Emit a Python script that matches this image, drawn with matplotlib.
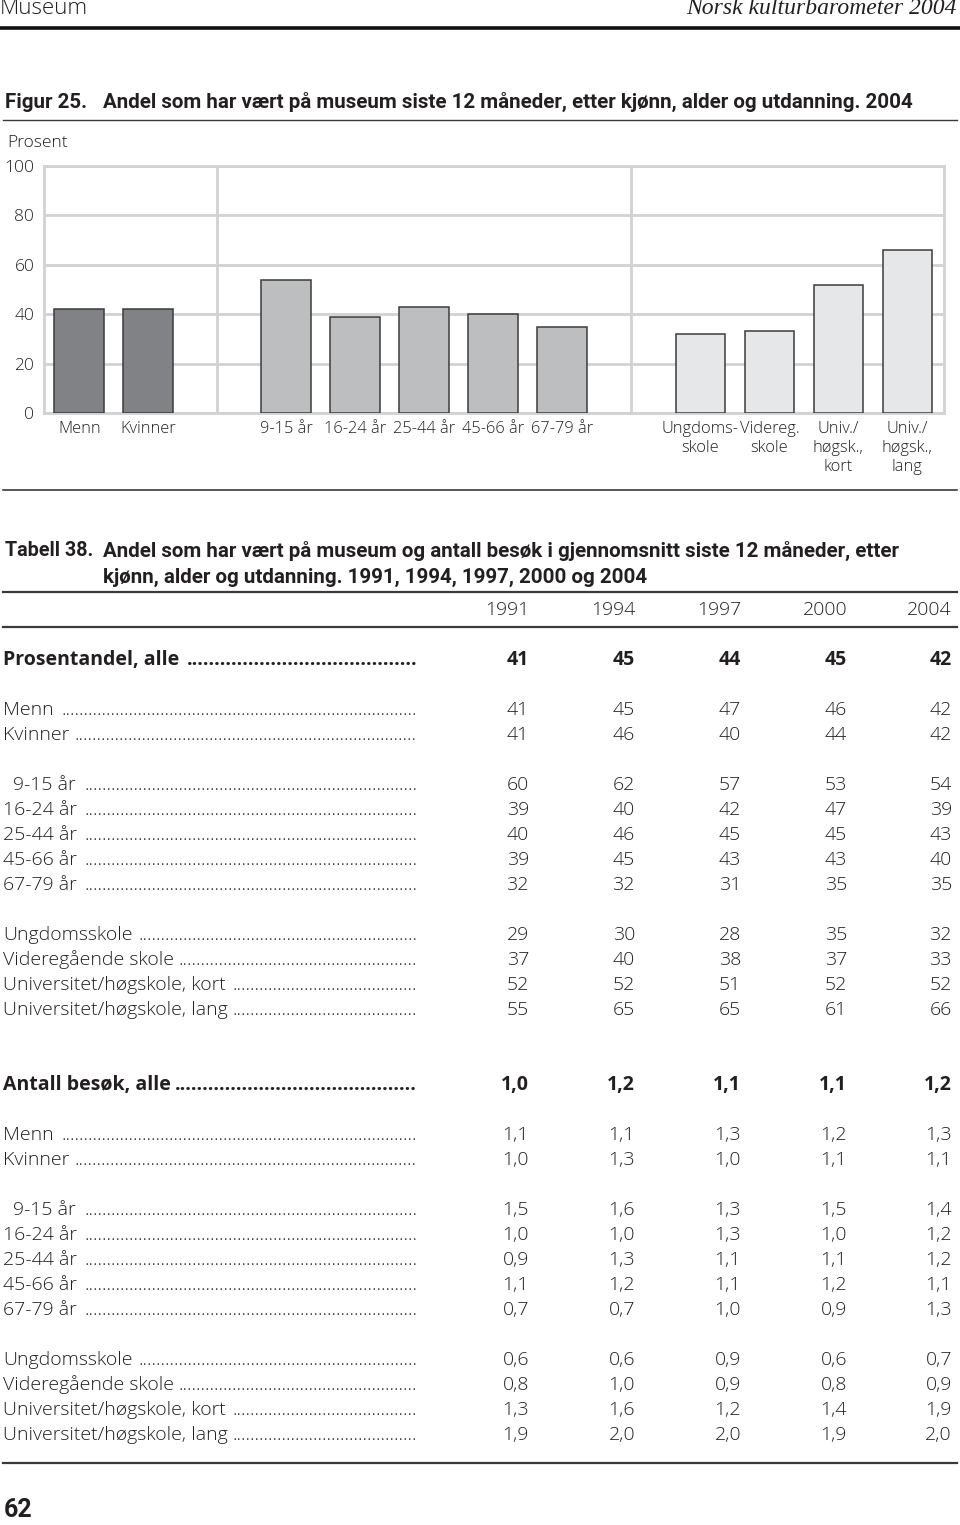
import matplotlib
matplotlib.use("Agg")
import matplotlib.pyplot as plt
from matplotlib.lines import Line2D

W, H = 960, 1525

# ── figure data ────────────────────────────────────────────────────────────
bar_labels = ["Menn", "Kvinner",
              "9-15 år", "16-24 år", "25-44 år", "45-66 år", "67-79 år",
              "Ungdoms-\nskole", "Videreg.\nskole", "Univ./\nhøgsk.,\nkort", "Univ./\nhøgsk.,\nlang"]
bar_values = [42, 42, 54, 39, 43, 40, 35, 32, 33, 52, 66]
bar_groups = [0, 0, 1, 1, 1, 1, 1, 2, 2, 2, 2]
group_colors = ["#808285", "#bcbec0", "#e6e7e8"]

# ── table data ─────────────────────────────────────────────────────────────
years = ["1991", "1994", "1997", "2000", "2004"]
row_labels = ["Menn", "Kvinner",
              "9-15 år", "16-24 år", "25-44 år", "45-66 år", "67-79 år",
              "Ungdomsskole", "Videregående skole",
              "Universitet/høgskole, kort", "Universitet/høgskole, lang"]
share_all = ["41", "45", "44", "45", "42"]
share_rows = [
    ["41", "45", "47", "46", "42"],
    ["41", "46", "40", "44", "42"],
    ["60", "62", "57", "53", "54"],
    ["39", "40", "42", "47", "39"],
    ["40", "46", "45", "45", "43"],
    ["39", "45", "43", "43", "40"],
    ["32", "32", "31", "35", "35"],
    ["29", "30", "28", "35", "32"],
    ["37", "40", "38", "37", "33"],
    ["52", "52", "51", "52", "52"],
    ["55", "65", "65", "61", "66"],
]
visits_all = ["1,0", "1,2", "1,1", "1,1", "1,2"]
visits_rows = [
    ["1,1", "1,1", "1,3", "1,2", "1,3"],
    ["1,0", "1,3", "1,0", "1,1", "1,1"],
    ["1,5", "1,6", "1,3", "1,5", "1,4"],
    ["1,0", "1,0", "1,3", "1,0", "1,2"],
    ["0,9", "1,3", "1,1", "1,1", "1,2"],
    ["1,1", "1,2", "1,1", "1,2", "1,1"],
    ["0,7", "0,7", "1,0", "0,9", "1,3"],
    ["0,6", "0,6", "0,9", "0,6", "0,7"],
    ["0,8", "1,0", "0,9", "0,8", "0,9"],
    ["1,3", "1,6", "1,2", "1,4", "1,9"],
    ["1,9", "2,0", "2,0", "1,9", "2,0"],
]

FONT = "Open Sans"
COND = "Roboto"
TXT = "#231f20"
TS = 14  # table text size
HS = 14.8  # heading size

fig = plt.figure(figsize=(W / 100, H / 100), dpi=100)
renderer = fig.canvas.get_renderer()


def fx(x):
    return x / W


def fy(y):
    return 1 - y / H


def text(x, y, s, **kw):
    kw.setdefault("family", FONT)
    kw.setdefault("color", TXT)
    kw.setdefault("va", "center")
    return fig.text(fx(x), fy(y), s, **kw)


def hline(y, x0=3, x1=957, lw=1.2, color="#3a3a3a"):
    fig.add_artist(Line2D([fx(x0), fx(x1)], [fy(y), fy(y)], lw=lw, color=color,
                          transform=fig.transFigure))


# ── page header ────────────────────────────────────────────────────────────
text(0, 9, "Museum", fontsize=16, ha="left", fontweight="light")
text(957, 9, "Norsk kulturbarometer 2004", fontsize=17, ha="right",
     family="Liberation Serif", style="italic")
hline(28, 0, 960, lw=2.6, color="#111111")

text(5, 102, "Figur 25.", fontsize=HS, ha="left", family=COND, fontweight="bold")
text(103, 102, "Andel som har vært på museum siste 12 måneder, etter kjønn, alder og utdanning. 2004",
     fontsize=HS, ha="left", family=COND, fontweight="bold")
hline(120, lw=1.0)

# ── bar chart ──────────────────────────────────────────────────────────────
ax = fig.add_axes([fx(44), fy(413), fx(944) - fx(44), fy(166) - fy(413)])
x_pos = [0, 1, 3, 4, 5, 6, 7, 9, 10, 11, 12]
grid_c = "#d1d2d4"
ax.set_axisbelow(True)
ax.grid(axis="y", color=grid_c, lw=2)
for sep in (2, 8):
    ax.axvline(sep, color=grid_c, lw=2, zorder=0.5)
ax.bar(x_pos, bar_values, width=0.72,
       color=[group_colors[g] for g in bar_groups],
       edgecolor="#3c3c3c", linewidth=1.1, zorder=3)
ax.set_xlim(-0.51, 12.53)
ax.set_ylim(0, 100)
ax.set_yticks([0, 20, 40, 60, 80, 100])
ax.set_xticks(x_pos)
ax.set_xticklabels(bar_labels, linespacing=1.25)
for s in ax.spines.values():
    s.set_color(grid_c)
    s.set_linewidth(2)
ax.tick_params(length=0, labelsize=11.8, labelcolor=TXT)
ax.tick_params(axis="y", labelsize=12.5, pad=7)
ax.tick_params(axis="x", pad=6)
for lab in ax.get_xticklabels() + ax.get_yticklabels():
    lab.set_family(FONT)
    lab.set_fontweight("light")
text(7, 143, "Prosent", fontsize=12.5, ha="left", fontweight="light")
hline(490, lw=1.2)

# ── table ──────────────────────────────────────────────────────────────────
text(5, 551, "Tabell 38.", fontsize=14.2, ha="left", family=COND, fontweight="bold")
text(103, 551, "Andel som har vært på museum og antall besøk i gjennomsnitt siste 12 måneder, etter",
     fontsize=HS, ha="left", family=COND, fontweight="bold")
text(103, 577, "kjønn, alder og utdanning. 1991, 1994, 1997, 2000 og 2004",
     fontsize=HS, ha="left", family=COND, fontweight="bold")
hline(592, lw=1.6)

col_right = [529, 635, 741, 847, 952]
for xr, yr in zip(col_right, years):
    text(xr, 610, yr, fontsize=TS, ha="right", fontweight="light")
hline(627, lw=1.6)

DOTS_END = 417


def dot_width(fw):
    t = text(0, 0, "." * 50, fontsize=TS, fontweight=fw)
    w = t.get_window_extent(renderer).width / 50
    t.remove()
    return w


DOT_W = {"light": dot_width("light"), "bold": dot_width("bold")}


def table_row(y, label, vals, bold=False, indent=0):
    fw = "bold" if bold else "light"
    lab = text(3 + indent, y, label, fontsize=TS, ha="left", fontweight=fw)
    x_end = lab.get_window_extent(renderer).x1
    n = int((DOTS_END - x_end - 4) / DOT_W[fw])
    if n > 0:
        text(DOTS_END, y, "." * n, fontsize=TS, ha="right", fontweight=fw)
    for xr, v in zip(col_right, vals):
        text(xr, y, v, fontsize=TS, ha="right", fontweight=fw)


def block(y0, head, head_vals, rows):
    table_row(y0, head, head_vals, bold=True)
    ys = [y0 + 50, y0 + 75,
          y0 + 125, y0 + 150, y0 + 175, y0 + 200, y0 + 225,
          y0 + 275, y0 + 300, y0 + 325, y0 + 350]
    for y, lab, vals in zip(ys, row_labels, rows):
        table_row(y, lab, vals, indent=10 if lab == "9-15 år" else 0)


block(660, "Prosentandel, alle", share_all, share_rows)
block(1085, "Antall besøk, alle", visits_all, visits_rows)

hline(1463, lw=1.6)
text(4, 1510, "62", fontsize=18, ha="left", family=COND, fontweight="bold")

fig.savefig("out.png", dpi=100)
